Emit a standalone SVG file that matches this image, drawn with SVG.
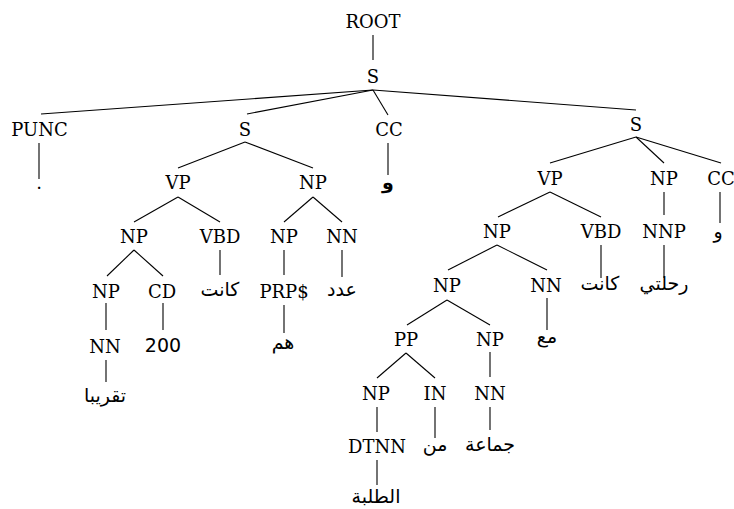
<svg xmlns="http://www.w3.org/2000/svg" width="734" height="509" viewBox="0 0 734 509">
<style>
.l{font-family:"DejaVu Serif","Liberation Serif",serif;font-size:18px;fill:#000;text-anchor:middle}
.a{font-family:"DejaVu Sans","Noto Sans",sans-serif;font-size:19px;fill:#000;text-anchor:middle}
.e line{stroke:#000;stroke-width:1.1}
</style>
<rect width="734" height="509" fill="#fff"/>
<g class="e" id="connectors">
<line x1="373" y1="35" x2="373" y2="60"/>
<line x1="373" y1="90" x2="41" y2="114"/>
<line x1="373" y1="90" x2="247" y2="114"/>
<line x1="373" y1="90" x2="388" y2="115"/>
<line x1="373" y1="90" x2="636" y2="110"/>
<line x1="39" y1="143" x2="39" y2="179"/>
<line x1="245" y1="142" x2="178" y2="168"/>
<line x1="245" y1="142" x2="313" y2="168"/>
<line x1="388" y1="143" x2="388" y2="175"/>
<line x1="636" y1="137" x2="550" y2="163"/>
<line x1="636" y1="137" x2="664" y2="163"/>
<line x1="636" y1="137" x2="721" y2="163"/>
<line x1="178" y1="197" x2="134" y2="222"/>
<line x1="178" y1="197" x2="220" y2="222"/>
<line x1="313" y1="197" x2="284" y2="222"/>
<line x1="313" y1="197" x2="342" y2="222"/>
<line x1="550" y1="192" x2="498" y2="217"/>
<line x1="550" y1="192" x2="601" y2="217"/>
<line x1="664" y1="192" x2="664" y2="215"/>
<line x1="720" y1="192" x2="720" y2="223"/>
<line x1="134" y1="250" x2="107" y2="276"/>
<line x1="134" y1="250" x2="163" y2="276"/>
<line x1="220" y1="250" x2="220" y2="275"/>
<line x1="284" y1="250" x2="284" y2="275"/>
<line x1="342" y1="250" x2="342" y2="277"/>
<line x1="497" y1="245" x2="448" y2="270"/>
<line x1="497" y1="245" x2="547" y2="270"/>
<line x1="601" y1="245" x2="601" y2="278"/>
<line x1="664" y1="245" x2="664" y2="278"/>
<line x1="106" y1="303" x2="106" y2="330"/>
<line x1="163" y1="303" x2="163" y2="330"/>
<line x1="284" y1="305" x2="284" y2="333"/>
<line x1="447" y1="300" x2="407" y2="325"/>
<line x1="447" y1="300" x2="490" y2="325"/>
<line x1="547" y1="298" x2="547" y2="330"/>
<line x1="106" y1="360" x2="106" y2="382"/>
<line x1="406" y1="353" x2="377" y2="378"/>
<line x1="406" y1="353" x2="435" y2="378"/>
<line x1="490" y1="352" x2="490" y2="377"/>
<line x1="377" y1="407" x2="377" y2="432"/>
<line x1="435" y1="407" x2="435" y2="438"/>
<line x1="490" y1="407" x2="490" y2="430"/>
<line x1="377" y1="460" x2="377" y2="485"/>
</g>
<g id="n-root"><text class="l" x="373" y="28">ROOT</text></g>
<g id="n-s0"><text class="l" x="373" y="83">S</text></g>
<g id="n-punc"><text class="l" x="39.5" y="136">PUNC</text></g>
<g id="n-dot"><text class="l" x="39" y="189">.</text></g>
<g id="n-s1"><text class="l" x="245" y="136">S</text></g>
<g id="n-cc1"><text class="l" x="389" y="136">CC</text></g>
<g id="n-waw1"><text class="a" x="388" y="189" font-weight="bold">و</text></g>
<g id="n-s2"><text class="l" x="636" y="131">S</text></g>
<g id="n-vp1"><text class="l" x="178" y="189">VP</text></g>
<g id="n-np1"><text class="l" x="313" y="189">NP</text></g>
<g id="n-vp2"><text class="l" x="550" y="185">VP</text></g>
<g id="n-np2"><text class="l" x="664" y="185">NP</text></g>
<g id="n-cc2"><text class="l" x="721" y="185">CC</text></g>
<g id="n-np3"><text class="l" x="134" y="243">NP</text></g>
<g id="n-vbd1"><text class="l" x="220" y="243">VBD</text></g>
<g id="n-np4"><text class="l" x="284" y="243">NP</text></g>
<g id="n-nn1"><text class="l" x="342" y="243">NN</text></g>
<g id="n-np5"><text class="l" x="497" y="238">NP</text></g>
<g id="n-vbd2"><text class="l" x="601" y="238">VBD</text></g>
<g id="n-nnp"><text class="l" x="664" y="238">NNP</text></g>
<g id="n-waw2"><text class="a" x="718" y="238">و</text></g>
<g id="n-np6"><text class="l" x="106" y="298">NP</text></g>
<g id="n-cd"><text class="l" x="162" y="298">CD</text></g>
<g id="n-kanat1"><text class="a" x="220" y="296">كانت</text></g>
<g id="n-prp"><text class="l" x="284" y="298">PRP$</text></g>
<g id="n-adad"><text class="a" x="342" y="296">عدد</text></g>
<g id="n-np7"><text class="l" x="447" y="292">NP</text></g>
<g id="n-nn2"><text class="l" x="546" y="292">NN</text></g>
<g id="n-kanat2"><text class="a" x="600" y="290">كانت</text></g>
<g id="n-rihlati"><text class="a" x="664" y="290">رحلتي</text></g>
<g id="n-nn3"><text class="l" x="105" y="353">NN</text></g>
<g id="n-200"><text class="a" x="163" y="352">200</text></g>
<g id="n-hum"><text class="a" x="283" y="349">هم</text></g>
<g id="n-pp"><text class="l" x="406" y="346">PP</text></g>
<g id="n-np8"><text class="l" x="490" y="346">NP</text></g>
<g id="n-maa"><text class="a" x="547" y="343">مع</text></g>
<g id="n-taqriban"><text class="a" x="105" y="402">تقريبا</text></g>
<g id="n-np9"><text class="l" x="376" y="400">NP</text></g>
<g id="n-in"><text class="l" x="435" y="400">IN</text></g>
<g id="n-nn4"><text class="l" x="490" y="400">NN</text></g>
<g id="n-dtnn"><text class="l" x="377" y="453">DTNN</text></g>
<g id="n-min"><text class="a" x="435" y="451">من</text></g>
<g id="n-jamaa"><text class="a" x="490" y="451">جماعة</text></g>
<g id="n-talaba"><text class="a" x="376" y="503">الطلبة</text></g>
</svg>
